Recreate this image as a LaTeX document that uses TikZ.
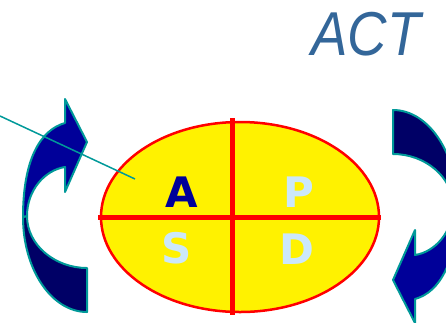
\documentclass[tikz,border=0pt]{standalone}
\usepackage{fontspec}
\usetikzlibrary{shapes.geometric}
\newfontfamily\actfont{Liberation Sans}
\newfontfamily\letterfont{DejaVu Sans}
\definecolor{navyA}{RGB}{0,0,153}
\definecolor{navyB}{RGB}{0,0,102}
\definecolor{tealc}{RGB}{0,153,153}
\definecolor{actblue}{RGB}{51,102,153}
\definecolor{pale}{RGB}{204,232,250}
\tikzset{
  arrowpart/.style={draw=tealc, line width=2pt, line join=round},
  bigletter/.style={anchor=base, inner sep=0pt, font=\letterfont\bfseries\fontsize{42}{42}\selectfont},
  crossline/.style={draw=red, line width=5pt},
  curvarrow/.pic={
    \path[arrowpart, fill=navyB] (87,312) .. controls (52,312) and (23,270) .. (23,217)
        -- (27,216) .. controls (27,245) and (55,268) .. (87,268) -- cycle;
    \path[arrowpart, fill=navyA] (23,217) .. controls (23,160) and (40,130) .. (65,123)
        -- (65,99) -- (87,142) -- (65,192) -- (65,167)
        .. controls (45,170) and (27,190) .. (27,216) -- cycle;
  }
}
\begin{document}
\begin{tikzpicture}[x=1pt, y=-1pt]
\useasboundingbox (0,0) rectangle (446,322);
\clip (0,0) rectangle (446,322);
% curved arrows
\pic (leftarrow) at (0,0) {curvarrow};
\pic[rotate=180] (rightarrow) at (480,422) {curvarrow};
% ellipse
\node[draw=red, fill=yellow, line width=2.5pt, ellipse, minimum width=278pt, minimum height=190pt, inner sep=0pt] (oval) at (240,217) {};
\coordinate (hl) at (98,217);
\coordinate (hr) at (381,217);
\coordinate (vt) at (232,118);
\coordinate (vb) at (232,315);
\draw[crossline] (hl) -- (hr);
\draw[crossline] (vt) -- (vb);
% letters
\node[bigletter, text=navyA] (A) at (182,207) {A};
\node[bigletter, text=pale] (P) at (299,207) {P};
\node[bigletter, text=pale] (S) at (177,263) {S};
\node[bigletter, text=pale] (D) at (297,264) {D};
% pointer line
\coordinate (pstart) at (0,116);
\coordinate (pend) at (135,179);
\draw[tealc, line width=1.5pt] (pstart) -- (pend);
% title
\node[anchor=base, inner sep=0pt, xscale=0.88, text=actblue, font=\actfont\itshape\fontsize{62}{62}\selectfont] (act) at (366,55) {ACT};
\end{tikzpicture}
\end{document}
